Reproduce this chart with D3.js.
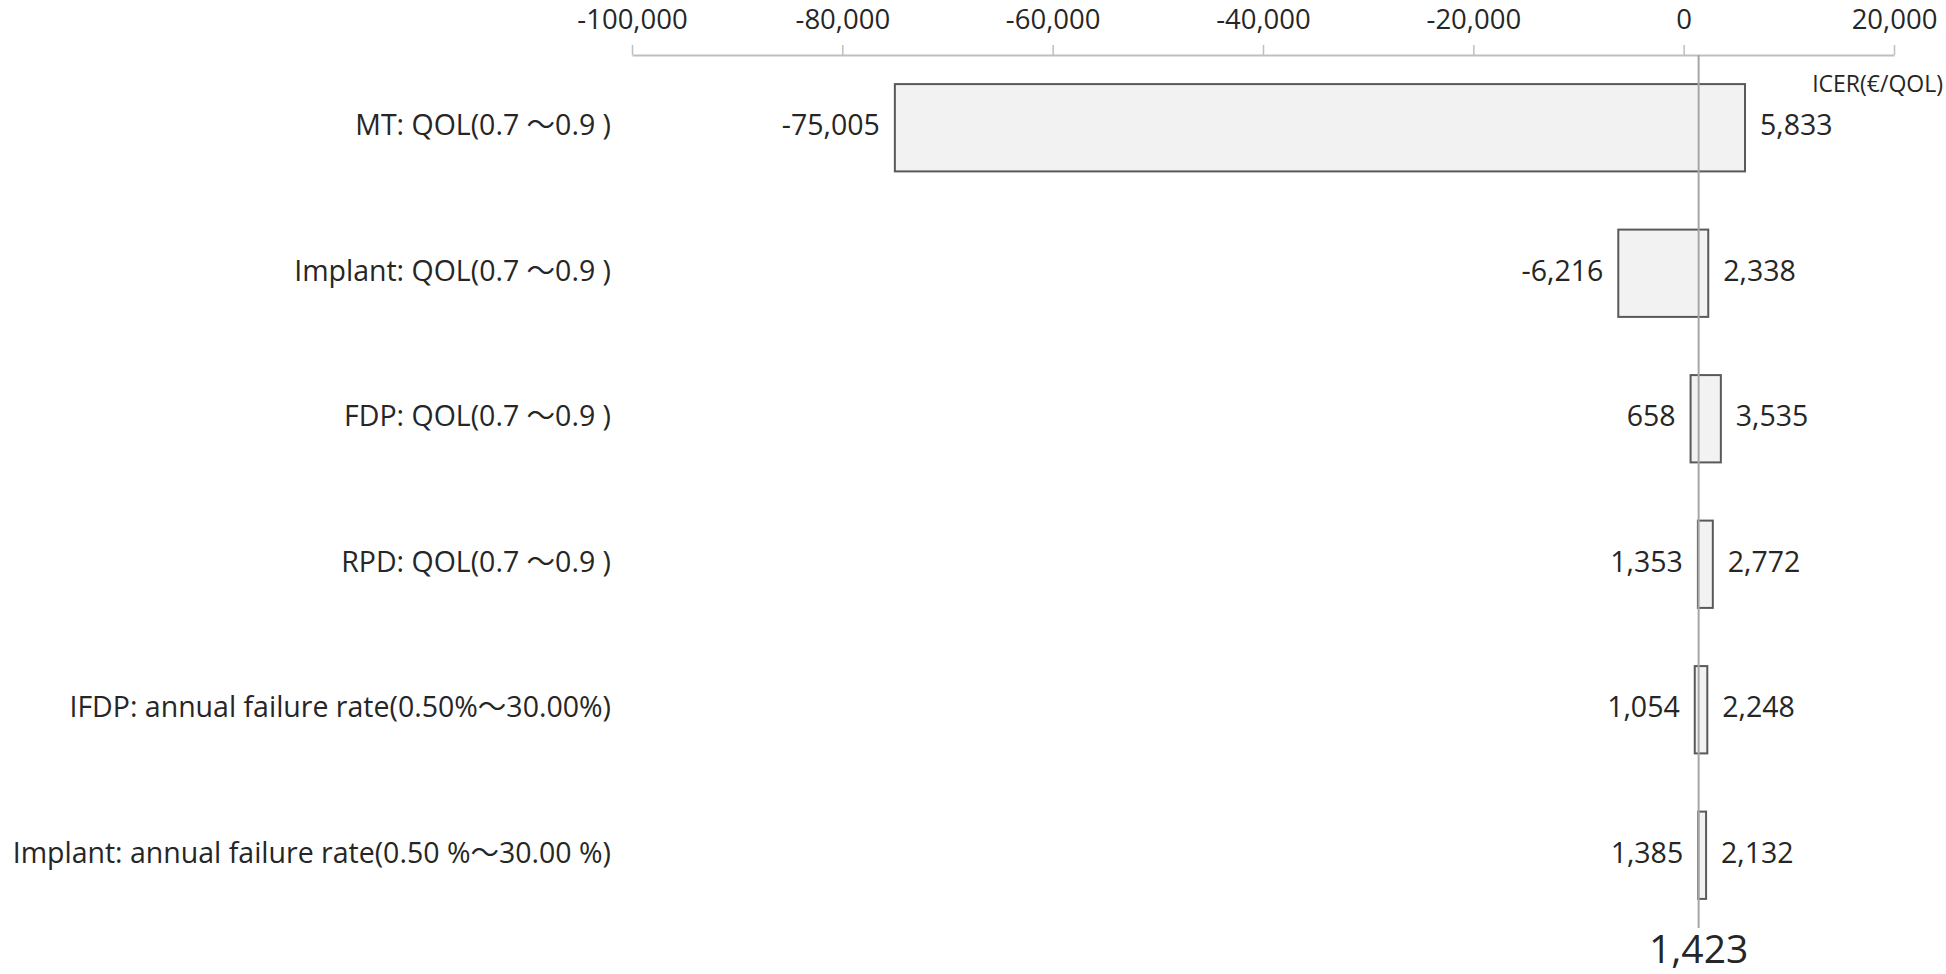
<!DOCTYPE html>
<html>
<head>
<meta charset="utf-8">
<script src="https://cdn.jsdelivr.net/npm/d3@7"></script>
<style>
  body { margin: 0; background: #fff; }
  svg text { font-family: "Open Sans", "Noto Sans CJK JP", sans-serif; fill: #262626; }
</style>
</head>
<body>
<svg id="chart" width="1946" height="974"></svg>
<script>
// tornado diagram: ICER range for each parameter
const parameters = [
  "MT: QOL(0.7 ～0.9 )",
  "Implant: QOL(0.7 ～0.9 )",
  "FDP: QOL(0.7 ～0.9 )",
  "RPD: QOL(0.7 ～0.9 )",
  "IFDP: annual failure rate(0.50%～30.00%)",
  "Implant: annual failure rate(0.50 %～30.00 %)"
]
const lowValues = [-75005, -6216, 658, 1353, 1054, 1385]
const highValues = [5833, 2338, 3535, 2772, 2248, 2132]
const baseValue = 1423
const xTicks = [-100000, -80000, -60000, -40000, -20000, 0, 20000]
const axisTitle = "ICER(€/QOL)"

const svg = d3.select("#chart")
// plain hyphen for negatives, like the original
const fmt = d3.formatLocale({ decimal: ".", thousands: ",", grouping: [3], currency: ["", ""], minus: "-" }).format(",")
const margin = { top: 55, left: 632, right: 52, bottom: 46 }
const width = 1946, height = 974
const labelSize = 28.5

const x = d3.scaleLinear().domain([-100000, 20000]).range([margin.left, width - margin.right])
const y = d3.scaleBand().domain(parameters).range([margin.top, height - margin.bottom]).paddingInner(0.4).paddingOuter(0.2)

const rows = parameters.map((p, i) => ({ name: p, low: lowValues[i], high: highValues[i] }))

//----------------------------------------------------------- axis on top
const axis = svg.append("g").attr("transform", `translate(0,${margin.top})`)
  .call(d3.axisTop(x).tickValues(xTicks).tickFormat(fmt).tickSize(10).tickSizeOuter(0).tickPadding(16))
axis.select(".domain").attr("stroke", "#bfbfbf").attr("stroke-width", 2)
axis.selectAll(".tick line").attr("stroke", "#bfbfbf").attr("stroke-width", 1.5)
axis.selectAll(".tick text").attr("font-size", 27.5).attr("fill", "#262626").attr("font-family", null)

svg.append("text").attr("x", width - 3).attr("y", 86).attr("text-anchor", "end")
  .attr("dominant-baseline", "middle").attr("font-size", 23).text(axisTitle)

//----------------------------------------------------------- bars
svg.selectAll(".bar").data(rows).join("rect").attr("class", "bar")
  .attr("x", d => x(d.low)).attr("y", d => y(d.name))
  .attr("width", d => x(d.high) - x(d.low)).attr("height", y.bandwidth())
  .attr("fill", "#f2f2f2").attr("stroke", "#595959").attr("stroke-width", 2)

// base case line
svg.append("line").attr("x1", x(baseValue)).attr("x2", x(baseValue))
  .attr("y1", margin.top).attr("y2", height - margin.bottom)
  .attr("stroke", "#a6a6a6").attr("stroke-width", 2)

svg.append("text").attr("x", x(baseValue)).attr("y", 953).attr("text-anchor", "middle")
  .attr("dominant-baseline", "middle").attr("font-size", 39).text(fmt(baseValue))

//----------------------------------------------------------- labels
svg.selectAll(".cat").data(rows).join("text").attr("class", "cat")
  .attr("x", 611).attr("y", d => y(d.name) + y.bandwidth() / 2)
  .attr("text-anchor", "end").attr("dominant-baseline", "middle").attr("font-size", labelSize)
  .text(d => d.name)

svg.selectAll(".low").data(rows).join("text").attr("class", "low")
  .attr("x", d => x(d.low) - 15).attr("y", d => y(d.name) + y.bandwidth() / 2)
  .attr("text-anchor", "end").attr("dominant-baseline", "middle").attr("font-size", labelSize)
  .text(d => fmt(d.low))

svg.selectAll(".high").data(rows).join("text").attr("class", "high")
  .attr("x", d => x(d.high) + 15).attr("y", d => y(d.name) + y.bandwidth() / 2)
  .attr("text-anchor", "start").attr("dominant-baseline", "middle").attr("font-size", labelSize)
  .text(d => fmt(d.high))
</script>
</body>
</html>
